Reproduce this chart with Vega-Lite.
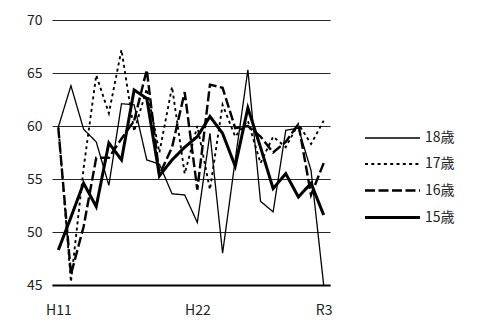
{
  "$schema": "https://vega.github.io/schema/vega-lite/v6.json",
  "width": 278,
  "height": 265,
  "autosize": {"type": "none"},
  "padding": {"left": 52, "top": 20, "right": 152, "bottom": 35},
  "config": {
    "view": {"stroke": null},
    "font": "Noto Sans CJK JP"
  },
  "datasets": {
    "series": [
      {"year": "H11", "age": "18歳", "value": 59.9}, {"year": "H12", "age": "18歳", "value": 63.8}, {"year": "H13", "age": "18歳", "value": 59.7}, {"year": "H14", "age": "18歳", "value": 58.5}, {"year": "H15", "age": "18歳", "value": 54.4}, {"year": "H16", "age": "18歳", "value": 62.1}, {"year": "H17", "age": "18歳", "value": 62.0}, {"year": "H18", "age": "18歳", "value": 56.8}, {"year": "H19", "age": "18歳", "value": 56.4}, {"year": "H20", "age": "18歳", "value": 53.6}, {"year": "H21", "age": "18歳", "value": 53.5}, {"year": "H22", "age": "18歳", "value": 50.9}, {"year": "H23", "age": "18歳", "value": 59.3}, {"year": "H24", "age": "18歳", "value": 48.0}, {"year": "H25", "age": "18歳", "value": 56.8}, {"year": "H26", "age": "18歳", "value": 65.3}, {"year": "H27", "age": "18歳", "value": 52.9}, {"year": "H28", "age": "18歳", "value": 51.9}, {"year": "H29", "age": "18歳", "value": 59.6}, {"year": "H30", "age": "18歳", "value": 59.8}, {"year": "R1", "age": "18歳", "value": 55.8}, {"year": "R3", "age": "18歳", "value": 45.0},
      {"year": "H11", "age": "17歳", "value": 60.0}, {"year": "H12", "age": "17歳", "value": 45.3}, {"year": "H13", "age": "17歳", "value": 56.0}, {"year": "H14", "age": "17歳", "value": 64.8}, {"year": "H15", "age": "17歳", "value": 61.2}, {"year": "H16", "age": "17歳", "value": 67.2}, {"year": "H17", "age": "17歳", "value": 59.5}, {"year": "H18", "age": "17歳", "value": 63.5}, {"year": "H19", "age": "17歳", "value": 57.5}, {"year": "H20", "age": "17歳", "value": 63.7}, {"year": "H21", "age": "17歳", "value": 55.5}, {"year": "H22", "age": "17歳", "value": 60.0}, {"year": "H23", "age": "17歳", "value": 54.0}, {"year": "H24", "age": "17歳", "value": 62.0}, {"year": "H25", "age": "17歳", "value": 59.0}, {"year": "H26", "age": "17歳", "value": 60.5}, {"year": "H27", "age": "17歳", "value": 56.5}, {"year": "H28", "age": "17歳", "value": 59.0}, {"year": "H29", "age": "17歳", "value": 58.0}, {"year": "H30", "age": "17歳", "value": 60.2}, {"year": "R1", "age": "17歳", "value": 58.3}, {"year": "R3", "age": "17歳", "value": 60.5},
      {"year": "H11", "age": "16歳", "value": 59.8}, {"year": "H12", "age": "16歳", "value": 46.0}, {"year": "H13", "age": "16歳", "value": 50.5}, {"year": "H14", "age": "16歳", "value": 57.0}, {"year": "H15", "age": "16歳", "value": 57.0}, {"year": "H16", "age": "16歳", "value": 58.8}, {"year": "H17", "age": "16歳", "value": 60.5}, {"year": "H18", "age": "16歳", "value": 65.3}, {"year": "H19", "age": "16歳", "value": 55.4}, {"year": "H20", "age": "16歳", "value": 58.0}, {"year": "H21", "age": "16歳", "value": 63.2}, {"year": "H22", "age": "16歳", "value": 54.0}, {"year": "H23", "age": "16歳", "value": 63.9}, {"year": "H24", "age": "16歳", "value": 63.6}, {"year": "H25", "age": "16歳", "value": 59.8}, {"year": "H26", "age": "16歳", "value": 60.0}, {"year": "H27", "age": "16歳", "value": 59.0}, {"year": "H28", "age": "16歳", "value": 57.5}, {"year": "H29", "age": "16歳", "value": 58.5}, {"year": "H30", "age": "16歳", "value": 60.2}, {"year": "R1", "age": "16歳", "value": 53.5}, {"year": "R3", "age": "16歳", "value": 56.5},
      {"year": "H11", "age": "15歳", "value": 48.3}, {"year": "H12", "age": "15歳", "value": 51.4}, {"year": "H13", "age": "15歳", "value": 54.6}, {"year": "H14", "age": "15歳", "value": 52.4}, {"year": "H15", "age": "15歳", "value": 58.4}, {"year": "H16", "age": "15歳", "value": 56.8}, {"year": "H17", "age": "15歳", "value": 63.4}, {"year": "H18", "age": "15歳", "value": 62.6}, {"year": "H19", "age": "15歳", "value": 55.3}, {"year": "H20", "age": "15歳", "value": 56.8}, {"year": "H21", "age": "15歳", "value": 58.0}, {"year": "H22", "age": "15歳", "value": 59.0}, {"year": "H23", "age": "15歳", "value": 60.9}, {"year": "H24", "age": "15歳", "value": 59.3}, {"year": "H25", "age": "15歳", "value": 56.2}, {"year": "H26", "age": "15歳", "value": 61.7}, {"year": "H27", "age": "15歳", "value": 58.0}, {"year": "H28", "age": "15歳", "value": 54.1}, {"year": "H29", "age": "15歳", "value": 55.5}, {"year": "H30", "age": "15歳", "value": 53.3}, {"year": "R1", "age": "15歳", "value": 54.6}, {"year": "R3", "age": "15歳", "value": 51.6}
    ]
  },
  "data": {"name": "series"},
  "mark": {"type": "line", "color": "black", "strokeCap": "butt", "strokeJoin": "miter"},
  "encoding": {
    "x": {
      "field": "year",
      "type": "ordinal",
      "sort": null,
      "scale": {"type": "point", "padding": 0.5},
      "axis": {
        "values": ["H11", "H22", "R3"],
        "title": null,
        "labelAngle": 0,
        "domainColor": "black",
        "domainWidth": 2,
        "ticks": false,
        "grid": false,
        "labelFontSize": 14,
        "labelColor": "#222222",
        "labelPadding": 18
      }
    },
    "y": {
      "field": "value",
      "type": "quantitative",
      "scale": {"domain": [45, 70]},
      "axis": {
        "values": [45, 50, 55, 60, 65, 70],
        "title": null,
        "domain": false,
        "ticks": false,
        "gridColor": "black",
        "gridWidth": 1,
        "gridOpacity": 0.85,
        "labelFontSize": 14,
        "labelColor": "#222222",
        "labelPadding": 10
      }
    },
    "strokeDash": {
      "field": "age",
      "type": "nominal",
      "scale": {
        "domain": ["18歳", "17歳", "16歳", "15歳"],
        "range": [[1, 0], [3, 3.3], [10, 3.5], [1, 0]]
      },
      "legend": {
        "orient": "none",
        "legendX": 328,
        "legendY": 106,
        "padding": 0,
        "title": null,
        "symbolType": "M-2.5,0H2.5",
        "symbolSize": 484,
        "symbolStrokeColor": "black",
        "rowPadding": 7,
        "labelFontSize": 14,
        "labelColor": "#222222",
        "labelOffset": 20
      }
    },
    "strokeWidth": {
      "field": "age",
      "type": "nominal",
      "scale": {
        "domain": ["18歳", "17歳", "16歳", "15歳"],
        "range": [1.3, 3, 3.5, 3.5]
      },
      "legend": {
        "orient": "none",
        "legendX": 328,
        "legendY": 106,
        "padding": 0,
        "title": null,
        "symbolType": "M-2.5,0H2.5",
        "symbolSize": 484,
        "symbolStrokeColor": "black",
        "rowPadding": 7,
        "labelFontSize": 14,
        "labelColor": "#222222",
        "labelOffset": 20
      }
    }
  }
}
